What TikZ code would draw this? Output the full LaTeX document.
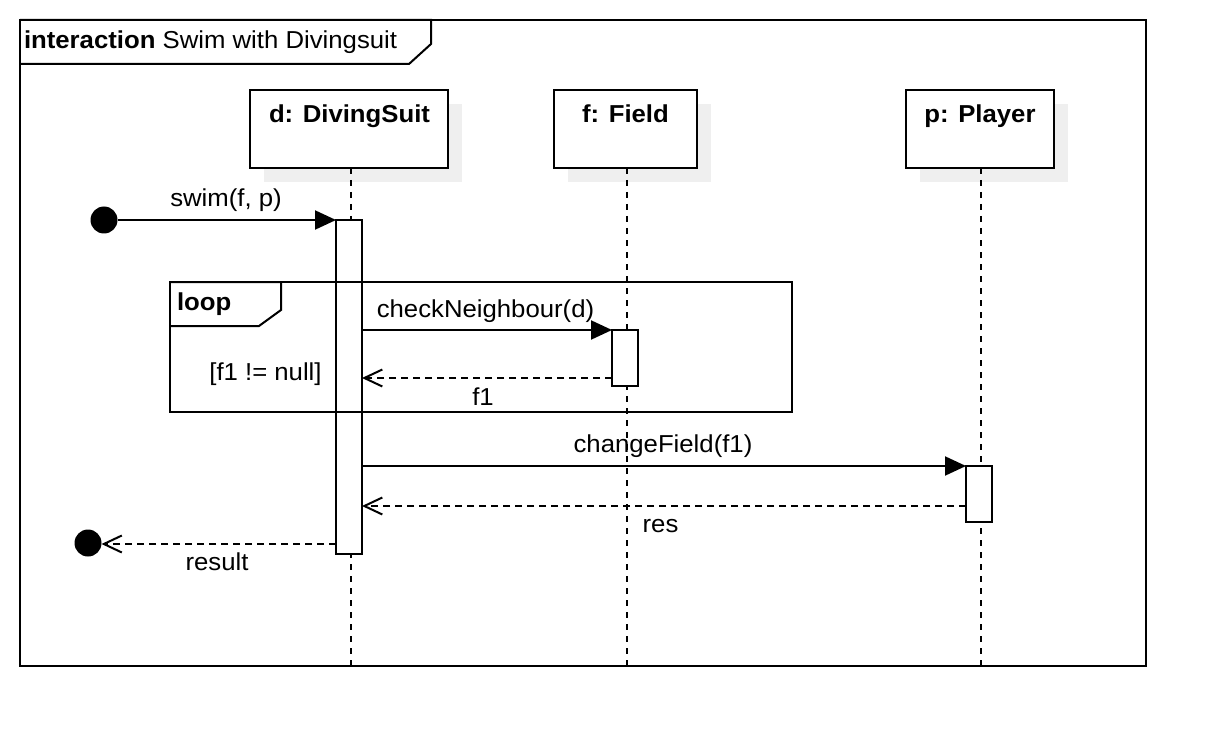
\documentclass[tikz,border=0pt]{standalone}
\usepackage{fontspec}
\setmainfont{Liberation Sans}[FakeStretch=1.05]
\usetikzlibrary{arrows.meta}
\definecolor{shadowgray}{HTML}{EFEFEF}

\begin{document}
\begin{tikzpicture}[x=1pt, y=-1pt, line width=2pt,
  every node/.style={inner sep=0pt, outer sep=0pt},
  lbl/.style={font=\fontsize{24.5}{29}\selectfont, anchor=base},
  blbl/.style={font=\fontsize{24.5}{29}\selectfont\bfseries, anchor=base},
  frame/.style={draw, rectangle},
  head/.style={draw, rectangle, fill=white,
    preaction={fill=shadowgray, transform canvas={xshift=14pt, yshift=-14pt}}},
  lifeline/.style={dash pattern=on 6pt off 6pt},
  activation/.style={draw, fill=white, rectangle, minimum width=26pt},
  dot/.style={circle, fill=black, minimum size=27pt},
  call/.style={-{Triangle[length=21pt, width=19pt]}},
  reply/.style={dash pattern=on 7pt off 5pt, -{Straight Barb[length=18pt, width=17pt]}}]

\useasboundingbox (0,0) rectangle (1226,746);

% interaction frame and its heading tab
\node[frame, minimum width=1126pt, minimum height=646pt] (frame) at (583,343) {};
\draw (frame.north west) -- ++(411,0) -- ++(0,24) -- ++(-22,20) -- ++(-389,0);
\node[lbl, anchor=base west] (title) at (24,49) {{\bfseries interaction} Swim with Divingsuit};

% lifeline heads
\node[head, minimum width=198pt, minimum height=78pt] (dH) at (349,129) {};
\node[blbl] (dT) at (349.5,123) {d: DivingSuit};
\node[head, minimum width=143pt, minimum height=78pt] (fH) at (625.5,129) {};
\node[blbl] (fT) at (625.5,123) {f: Field};
\node[head, minimum width=148pt, minimum height=78pt] (pH) at (980,129) {};
\node[blbl] (pT) at (980,123) {p: Player};

% lifelines
\draw[lifeline] ([xshift=2pt]dH.south) -- ([xshift=2pt]dH.south |- frame.south);
\draw[lifeline] ([xshift=1.5pt]fH.south) -- ([xshift=1.5pt]fH.south |- frame.south);
\draw[lifeline] ([xshift=1pt]pH.south) -- ([xshift=1pt]pH.south |- frame.south);

% activations
\node[activation, minimum height=334pt] (dA) at (349,387) {};
\node[activation, minimum height=56pt] (fA) at (625,358) {};
\node[activation, minimum height=56pt] (pA) at (979,494) {};

% loop fragment
\node[frame, minimum width=622pt, minimum height=130pt] (loop) at (481,347) {};
\draw (loop.north west) -- ++(111,0) -- ++(0,28) -- ++(-22,16) -- ++(-89,0);
\node[blbl, anchor=base west] (loopT) at (177,310) {loop};
\node[lbl] (guard) at (265.5,380) {[f1 != null]};

% found and lost message ends
\node[dot] (start) at (104,220) {};
\node[dot] (finish) at (88,543) {};

% messages
\draw[call] (start.east) -- (dA.north west);
\node[lbl] (swimL) at (226,207) {swim(f, p)};

\draw[call] (dA.east |- fA.north) -- (fA.north west);
\node[lbl] (checkL) at (485.5,317) {checkNeighbour(d)};

\coordinate (f1r) at ([yshift=8pt]fA.south west);
\draw[reply] (f1r) -- (f1r -| dA.east);
\node[lbl] (f1L) at (483,405) {f1};

\draw[call] (dA.east |- pA.north) -- (pA.north west);
\node[lbl] (changeL) at (663,452) {changeField(f1)};

\coordinate (resr) at ([yshift=16pt]pA.south west);
\draw[reply] (resr) -- (resr -| dA.east);
\node[lbl] (resL) at (660.5,532) {res};

\coordinate (resultr) at ([yshift=10pt]dA.south west);
\draw[reply] (resultr) -- (finish.east |- resultr);
\node[lbl] (resultL) at (217,570) {result};

\end{tikzpicture}
\end{document}
